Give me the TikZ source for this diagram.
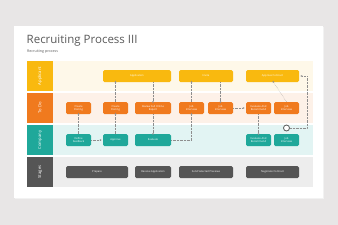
\documentclass[tikz,border=0pt]{standalone}
\usepackage{fontspec}
\setmainfont{Open Sans}
\usetikzlibrary{arrows.meta}
\definecolor{bggray}{HTML}{E8E6E6}
\definecolor{ayel}{HTML}{F9B90F}
\definecolor{ayelbg}{HTML}{FEF8E9}
\definecolor{tor}{HTML}{F07A1E}
\definecolor{torbg}{HTML}{FDF1E8}
\definecolor{cteal}{HTML}{1FA89A}
\definecolor{ctealbg}{HTML}{E2F4F3}
\definecolor{sgray}{HTML}{555555}
\definecolor{sgraybg}{HTML}{EDEDED}
\definecolor{titlegray}{HTML}{5A5A5A}
\definecolor{linegray}{HTML}{8E8E8E}
\tikzset{
  boxbase/.style={rounded corners=1.5pt, text=white, align=center, inner sep=0pt,
    minimum height=12pt, font=\fontsize{2.6}{3}\selectfont},
  ybox/.style={boxbase, fill=ayel},
  obox/.style={boxbase, fill=tor},
  tbox/.style={boxbase, fill=cteal},
  gbox/.style={boxbase, fill=sgray},
  lanelabel/.style={minimum width=26pt, minimum height=30pt, inner sep=0pt, text=white,
    font=\fontsize{4.2}{5}\selectfont},
  flow/.style={draw=linegray, densely dotted, line width=0.4pt,
    -{Latex[length=2pt,width=1.8pt]}},
  flowplain/.style={draw=linegray, densely dotted, line width=0.4pt},
}
\begin{document}
\begin{tikzpicture}[x=1pt,y=-1pt]
\useasboundingbox (0,0) rectangle (338,225);
\fill[bggray] (0,0) rectangle (338,225);
\fill[black!5] (14.6,26.6) rectangle (323.6,198.8);
\fill[white] (14,26) rectangle (323,198);
% title
\node[anchor=base west, inner sep=0pt, text=titlegray, font=\fontsize{11.5}{12}\selectfont] (title) at (26.5,43.5) {Recruiting Process III};
\node[anchor=base west, inner sep=0pt, text=titlegray, font=\fontsize{3.6}{4}\selectfont] (sub) at (27,52.5) {Recruiting process};
% lane backgrounds
\fill[ayelbg] (53,61) rectangle (313,91);
\fill[torbg] (53,93) rectangle (313,123);
\fill[ctealbg] (53,125) rectangle (313,155);
\fill[sgraybg] (53,157) rectangle (313,187);
% lane labels
\node[lanelabel, fill=ayel] (lA) at (40,76) {\rotatebox{90}{Applicant}};
\node[lanelabel, fill=tor] (lT) at (40,108) {\rotatebox{90}{To Do}};
\node[lanelabel, fill=cteal] (lC) at (40,140) {\rotatebox{90}{Company}};
\node[lanelabel, fill=sgray] (lS) at (40,172) {\rotatebox{90}{Stages}};
% applicant
\node[ybox, minimum width=68pt] (app) at (137,76) {Application};
\node[ybox, minimum width=54pt] (inv) at (206,76) {Invite};
\node[ybox, minimum width=53pt] (apc) at (272.5,76) {Approve Contract};
% to do
\node[obox, minimum width=25pt] (cp1) at (78.5,108) {Create\\Posting};
\node[obox, minimum width=25pt] (cp2) at (115.5,108) {Create\\Posting};
\node[obox, minimum width=36pt] (rev) at (153,108) {Review Full Online\\Report};
\node[obox, minimum width=25pt] (ji1) at (191.5,108) {Job\\Interview};
\node[obox, minimum width=25pt] (ji2) at (220.5,108) {Job\\Interview};
\node[obox, minimum width=25pt] (er1) at (258.5,108) {Evaluate And\\Recommend};
\node[obox, minimum width=25pt] (ji3) at (286.5,108) {Job\\Interview};
% company
\node[tbox, minimum width=25pt] (df) at (78.5,140) {Define\\Feedback};
\node[tbox, minimum width=25pt] (apr) at (115.5,140) {Approve};
\node[tbox, minimum width=36pt] (ev) at (153,140) {Evaluate};
\node[tbox, minimum width=25pt] (er2) at (258.5,140) {Evaluate And\\Recommend};
\node[tbox, minimum width=25pt] (ji4) at (286.5,140) {Job\\Interview};
% stages
\node[gbox, minimum width=62pt] (prep) at (97,172) {Prepare};
\node[gbox, minimum width=36pt] (recv) at (153,172) {Receive Application};
\node[gbox, minimum width=54pt] (send) at (206,172) {Send Selected Previews};
\node[gbox, minimum width=53pt] (neg) at (272.5,172) {Negotiate Contract};
% connectors
\draw[flow] (df.north) -- ([yshift=1.5pt]cp1.south);
\draw[flow] (apr.north) -- ([yshift=1.5pt]cp2.south);
\draw[flow] (cp2.north) -- ([yshift=1.5pt]cp2.north |- app.south);
\draw[flow] (rev.north |- app.south) -- ([yshift=-1.5pt]rev.north);
\draw[flow] (rev.south) -- ([yshift=-1.5pt]ev.north);
\draw[flow] (df.east) -- ([xshift=-1pt]apr.west);
\draw[flow] (ev.east) -| ([yshift=1.5pt]ji1.south);
\draw[flow] (ji1.north) -- ([yshift=1.5pt]ji1.north |- inv.south);
\draw[flow] (ji2.north |- inv.south) -- ([yshift=-1.5pt]ji2.north);
\draw[flow] (ji2.east) -- ([xshift=-1pt]er1.west);
\draw[flow] (er1.south) -- ([yshift=-1.5pt]er2.north);
\draw[flow] (ji3.north) -- ([yshift=1.5pt]apc.south);
\node[circle, draw=sgray, fill=white, line width=0.8pt, minimum size=6pt, inner sep=0pt] (dot) at (286.5,128) {};
\coordinate (cornerA) at (307,128);
\coordinate (cornerB) at (307,76);
\draw[flowplain] (dot.east) -- (cornerA) -- (cornerB);
\draw[flow] (cornerB) -- ([xshift=1pt]apc.east);
\end{tikzpicture}
\end{document}
